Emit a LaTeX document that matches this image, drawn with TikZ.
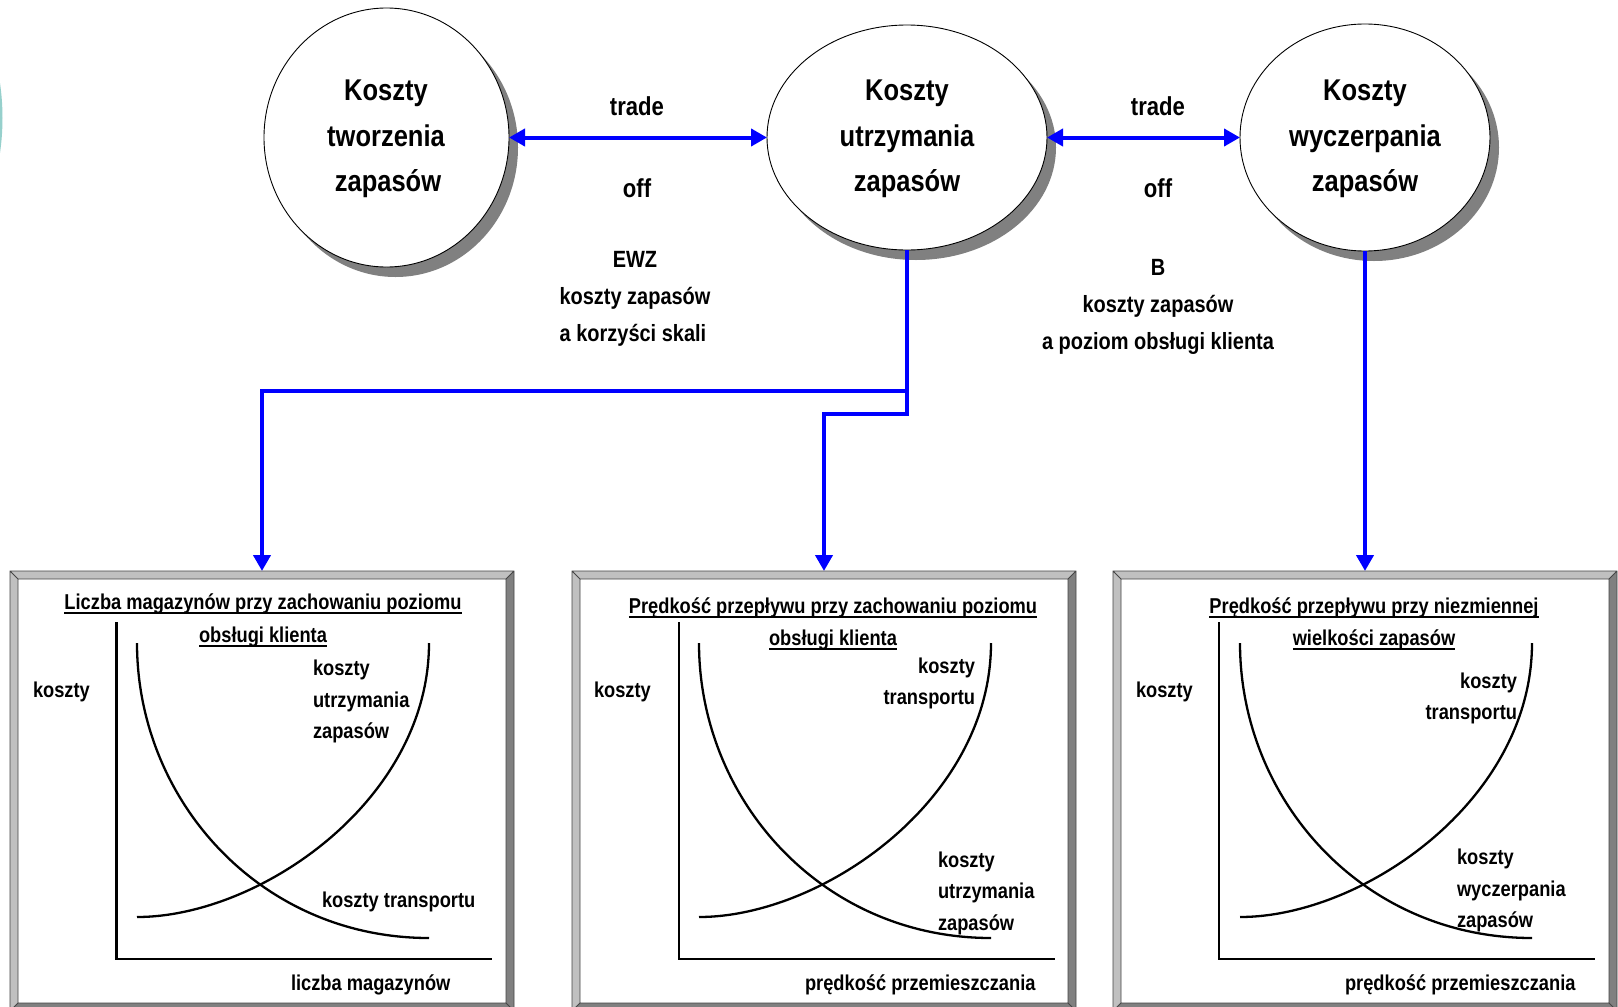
\documentclass[tikz,border=0pt]{standalone}
\usepackage{fontspec}
\setmainfont{Liberation Sans}[FakeStretch=0.85]
\usetikzlibrary{shapes.geometric,arrows.meta,shadows}
\definecolor{bluec}{RGB}{0,0,255}
\definecolor{bevlightc}{RGB}{192,192,192}
\definecolor{bevdarkc}{RGB}{128,128,128}
\definecolor{bevlinec}{RGB}{70,70,70}
\definecolor{shadowc}{RGB}{128,128,128}
\definecolor{tealc}{RGB}{150,208,204}
\newcommand\ellfont{\fontsize{30}{30}\selectfont\bfseries}
\newcommand\tradefont{\fontsize{26}{26}\selectfont\bfseries}
\newcommand\lowfont{\fontsize{23.5}{23.5}\selectfont\bfseries}
\newcommand\panfont{\fontsize{21.5}{21.5}\selectfont\bfseries}
\newcommand\bevbox[5]{%
  \node[boxnode, minimum width={#4-#2}, minimum height={#5-#3}] (#1) at ({(#2+#4)/2},{(#3+#5)/2}) {};
  \fill[bevlightc] (#2,#3) -- (#4,#3) -- (#4-8,#3+8) -- (#2+8,#3+8) -- (#2+8,#5-8) -- (#2,#5) -- cycle;
  \fill[bevdarkc] (#4,#3) -- (#4,#5) -- (#2,#5) -- (#2+8,#5-8) -- (#4-8,#5-8) -- (#4-8,#3+8) -- cycle;
  \draw[bevline] (#2,#3) rectangle (#4,#5) (#2+8,#3+8) rectangle (#4-8,#5-8)
     (#2,#3) -- (#2+8,#3+8) (#4,#3) -- (#4-8,#3+8) (#2,#5) -- (#2+8,#5-8) (#4,#5) -- (#4-8,#5-8);
}
\newcommand\curvepair[2]{%
  \draw[axisline] (#2,622) -- (#2,959) -- (#2+375.5,959);
  \draw[curveline] (#1,643) .. controls (#1,800) and (#1+123,938) .. (#1+292,938);
  \draw[curveline] (#1,917) .. controls (#1+123,917) and (#1+292,800) .. (#1+292,643);
}
\begin{document}
\begin{tikzpicture}[x=1pt,y=-1pt,
  every node/.style={inner sep=0pt, outer sep=0pt},
  circnode/.style={ellipse, draw=black, line width=0.9pt, fill=white,
    drop shadow={shadow xshift=9pt, shadow yshift=-10pt, fill=shadowc, opacity=1}},
  boxnode/.style={rectangle, fill=white},
  bevline/.style={draw=bevlinec, line width=0.8pt},
  axisline/.style={draw=black, line width=2.5pt},
  curveline/.style={draw=black, line width=2.3pt},
  ellt/.style={anchor=base, font=\ellfont},
  tradet/.style={anchor=base, font=\tradefont},
  lowt/.style={anchor=base, font=\lowfont},
  pant/.style={anchor=base, font=\panfont},
  pantl/.style={anchor=base west, font=\panfont},
  pantr/.style={anchor=base east, font=\panfont},
  uline/.style={draw=black, line width=2pt},
  conn/.style={draw=bluec, line width=4pt, -{Triangle[length=16pt,width=17pt]}},
  dconn/.style={draw=bluec, line width=4pt, {Triangle[length=16pt,width=17pt]}-{Triangle[length=16pt,width=17pt]}}
]
\useasboundingbox (0,0) rectangle (1618,1007);
\fill[white] (0,0) rectangle (1618,1007);
% decorative arc at left edge
\draw[tealc, line width=3pt] (-239,118) circle (240);

% ellipses
\node[circnode, minimum width=245pt, minimum height=259pt] (e1) at (386.5,137.5) {};
\node[circnode, minimum width=280pt, minimum height=225pt] (e2) at (907,137.5) {};
\node[circnode, minimum width=250pt, minimum height=227pt] (e3) at (1365,137.5) {};

\node[ellt] (e1a) at (386,100) {Koszty};
\node[ellt] (e1b) at (386,146.5) {tworzenia};
\node[ellt] (e1c) at (388,191) {zapasów};
\node[ellt] (e2a) at (907,100) {Koszty};
\node[ellt] (e2b) at (907,146.5) {utrzymania};
\node[ellt] (e2c) at (907,191) {zapasów};
\node[ellt] (e3a) at (1365,100) {Koszty};
\node[ellt] (e3b) at (1365,146.5) {wyczerpania};
\node[ellt] (e3c) at (1365,191) {zapasów};

% trade-off texts
\node[tradet] (tr1) at (637,115) {trade};
\node[tradet] (of1) at (637,197) {off};
\node[tradet] (tr2) at (1158,115) {trade};
\node[tradet] (of2) at (1158,197) {off};
\node[lowt] (l1a) at (635,267) {EWZ};
\node[lowt] (l1b) at (635,304) {koszty zapasów};
\node[lowt] (l1c) at (633,341) {a korzyści skali};
\node[lowt] (l2a) at (1158,275) {B};
\node[lowt] (l2b) at (1158,312) {koszty zapasów};
\node[lowt] (l2c) at (1158,349) {a poziom obsługi klienta};

% boxes
\bevbox{b1}{10}{571}{514}{1011}
\bevbox{b2}{572}{571}{1076}{1011}
\bevbox{b3}{1113}{571}{1617}{1011}

% connectors
\draw[dconn] (e1.east) -- (e2.west);
\draw[dconn] (e2.east) -- (e3.west);
\coordinate (j1) at (907,391);
\coordinate (j2) at (907,414);
\draw[conn] (e2.south) -- (j1) -| (b1.north);
\draw[conn] (j1) -- (j2) -| (b2.north);
\draw[conn] (e3.south) -- (b3.north);

% panel 1
\curvepair{137}{116.5}
\node[pant] (p1t1) at (263,609) {Liczba magazynów przy zachowaniu poziomu};
\node[pant] (p1t2) at (263,642) {obsługi klienta};
\draw[uline] ([yshift=-3.8pt]p1t1.base west) -- ([yshift=-3.8pt]p1t1.base east);
\draw[uline] ([yshift=-3.8pt]p1t2.base west) -- ([yshift=-3.8pt]p1t2.base east);
\node[pantl] (p1y) at (33,697) {koszty};
\node[pantl] (p1a) at (313,675) {koszty};
\node[pantl] (p1b) at (313,707) {utrzymania};
\node[pantl] (p1c) at (313,738) {zapasów};
\node[pantl] (p1d) at (322,907) {koszty transportu};
\node[pantl] (p1x) at (291,990) {liczba magazynów};

% panel 2
\curvepair{699}{679}
\node[pant] (p2t1) at (833,613) {Prędkość przepływu przy zachowaniu poziomu};
\node[pant] (p2t2) at (833,645) {obsługi klienta};
\draw[uline] ([yshift=-3.8pt]p2t1.base west) -- ([yshift=-3.8pt]p2t1.base east);
\draw[uline] ([yshift=-3.8pt]p2t2.base west) -- ([yshift=-3.8pt]p2t2.base east);
\node[pantl] (p2y) at (594,697) {koszty};
\node[pantr] (p2a) at (975,673) {koszty};
\node[pantr] (p2b) at (975,704) {transportu};
\node[pantl] (p2c) at (938,867) {koszty};
\node[pantl] (p2d) at (938,898) {utrzymania};
\node[pantl] (p2e) at (938,930) {zapasów};
\node[pantl] (p2x) at (805,990) {prędkość przemieszczania};

% panel 3
\curvepair{1240}{1219}
\node[pant] (p3t1) at (1374,613) {Prędkość przepływu przy niezmiennej\ };
\node[pant] (p3t2) at (1374,645) {wielkości zapasów};
\draw[uline] ([yshift=-3.8pt]p3t1.base west) -- ([yshift=-3.8pt]p3t1.base east);
\draw[uline] ([yshift=-3.8pt]p3t2.base west) -- ([yshift=-3.8pt]p3t2.base east);
\node[pantl] (p3y) at (1136,697) {koszty};
\node[pantr] (p3a) at (1517,688) {koszty};
\node[pantr] (p3b) at (1517,719) {transportu};
\node[pantl] (p3c) at (1457,864) {koszty};
\node[pantl] (p3d) at (1457,896) {wyczerpania};
\node[pantl] (p3e) at (1457,927) {zapasów};
\node[pantl] (p3x) at (1345,990) {prędkość przemieszczania};
\end{tikzpicture}
\end{document}
